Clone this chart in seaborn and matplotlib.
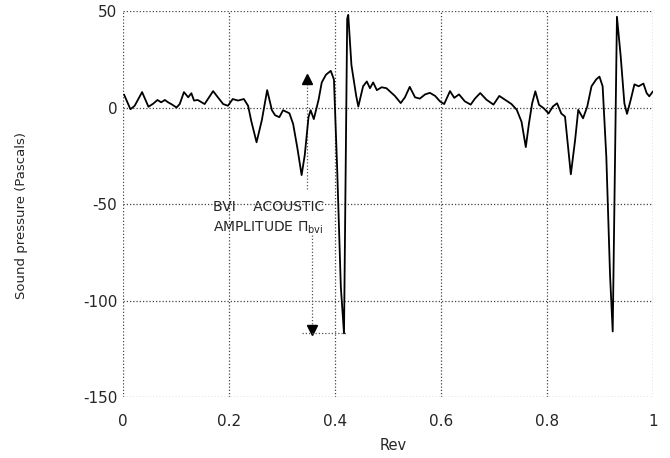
import numpy as np
import pandas as pd
import matplotlib
matplotlib.use("Agg")
import matplotlib.pyplot as plt
import seaborn as sns

# ---- data ----
rev = [0.002, 0.014, 0.022, 0.036, 0.048, 0.057, 0.065, 0.072, 0.079, 0.085,
       0.091, 0.101, 0.107, 0.115, 0.123, 0.129, 0.134, 0.141, 0.154, 0.170,
       0.179, 0.189, 0.198, 0.207, 0.217, 0.228, 0.236, 0.242, 0.252, 0.262,
       0.272, 0.281, 0.287, 0.295, 0.302, 0.314, 0.321, 0.329, 0.337, 0.343,
       0.350, 0.354, 0.360, 0.369, 0.375, 0.383, 0.392, 0.398, 0.404, 0.411,
       0.417, 0.423, 0.425, 0.431, 0.440, 0.444, 0.453, 0.460, 0.466, 0.472,
       0.479, 0.488, 0.497, 0.513, 0.524, 0.532, 0.541, 0.551, 0.560, 0.570,
       0.579, 0.589, 0.598, 0.606, 0.617, 0.625, 0.634, 0.645, 0.656, 0.664,
       0.674, 0.686, 0.699, 0.710, 0.721, 0.733, 0.743, 0.752, 0.760, 0.766,
       0.772, 0.778, 0.785, 0.794, 0.803, 0.811, 0.819, 0.827, 0.834, 0.845,
       0.853, 0.859, 0.868, 0.876, 0.884, 0.893, 0.899, 0.905, 0.912, 0.919,
       0.924, 0.932, 0.939, 0.946, 0.951, 0.958, 0.965, 0.973, 0.982, 0.988,
       0.993, 1.000]
pressure = [6.7, -0.9, 0.9, 8.0, 0.4, 2.0, 3.9, 2.7, 3.9, 2.7,
            1.8, 0.0, 1.8, 8.0, 5.3, 7.4, 3.6, 3.9, 1.8, 8.5,
            5.3, 1.8, 0.9, 4.4, 3.6, 4.4, 0.9, -7.0, -18.0, -6.5,
            9.0, -1.4, -4.0, -5.0, -1.4, -3.0, -8.5, -21.0, -35.0, -24.5,
            -5.0, -1.4, -6.0, 4.0, 13.0, 17.0, 19.0, 14.5, -31.0, -93.0,
            -117.0, 46.0, 48.0, 22.0, 6.0, 0.5, 11.0, 13.5, 10.0, 13.0,
            9.0, 10.5, 10.0, 6.0, 2.3, 5.3, 10.7, 5.3, 4.6, 6.8,
            7.6, 6.0, 3.2, 1.8, 8.5, 5.0, 6.8, 3.2, 1.5, 4.6,
            7.5, 4.0, 1.5, 6.0, 4.0, 1.8, -1.2, -7.4, -20.5, -8.2,
            2.2, 8.4, 1.4, -0.4, -3.1, 0.5, 2.2, -3.1, -4.7, -34.6,
            -17.0, -1.2, -5.6, 0.5, 11.0, 14.6, 16.0, 11.0, -25.8, -87.0,
            -116.0, 47.0, 26.8, 2.2, -3.3, 4.0, 12.0, 11.0, 12.4, 7.5,
            5.8, 8.4]

x_ticks = [0, 0.2, 0.4, 0.6, 0.8, 1.0]
x_tick_labels = ["0", "0.2", "0.4", "0.6", "0.8", "1"]
y_ticks = [50, 0, -50, -100, -150]
y_tick_labels = ["50", "0", "-50", "-100", "-150"]

# annotation values (BVI acoustic amplitude)
arrow_x_up = 0.348
arrow_x_down = 0.357
arrow_top = 17.0
arrow_upper_end = -42.0
arrow_lower_start = -66.0
bvi_min = -117.0
peak_x = 0.42

df = pd.DataFrame({"Rev": rev, "Pressure": pressure})

sns.set_style("white")
plt.rcParams["font.family"] = ["DejaVu Sans"]
plt.rcParams["axes.unicode_minus"] = False

fig = plt.figure(figsize=(6.7, 4.58), dpi=100)
ax = fig.add_axes([0.1836, 0.133, 0.791, 0.843])

grid_kw = dict(color="#444444", linewidth=0.9, linestyle=(0, (1, 1.6)))
ax.set_xlim(0, 1)
ax.set_ylim(-150, 50)
ax.set_xticks(x_ticks)
ax.set_xticklabels(x_tick_labels)
ax.set_yticks(y_ticks)
ax.set_yticklabels(y_tick_labels)
ax.grid(True, **grid_kw)
for s in ax.spines.values():
    s.set_visible(False)
ax.tick_params(axis="both", length=0, labelsize=11)
ax.tick_params(axis="x", pad=12)
ax.tick_params(axis="y", pad=4)

sns.lineplot(data=df, x="Rev", y="Pressure", color="black", linewidth=1.3,
             ax=ax, zorder=3)

# annotation
ax.plot([arrow_x_up, arrow_x_up], [arrow_upper_end, arrow_top - 4],
        color="#555555", linewidth=0.9, linestyle=(0, (1, 1.6)))
ax.plot([arrow_x_up], [arrow_top - 2], marker="^", color="black",
        markersize=6.5, linestyle="none")
ax.plot([arrow_x_down, arrow_x_down], [arrow_lower_start, bvi_min + 4],
        color="#555555", linewidth=0.9, linestyle=(0, (1, 1.6)))
ax.plot([arrow_x_down], [bvi_min + 2], marker="v", color="black",
        markersize=6.5, linestyle="none")
ax.plot([0.338, peak_x], [bvi_min, bvi_min],
        color="#555555", linewidth=0.9, linestyle=(0, (1, 1.6)))

ax.text(0.17, -51.5, "BVI    ACOUSTIC", fontsize=10, va="center", ha="left")
ax.text(0.17, -62.5, r"AMPLITUDE $\Pi_{\mathrm{bvi}}$", fontsize=10,
        va="center", ha="left")

ax.set_xlabel("Rev", fontsize=10.5)
ax.set_ylabel("Sound pressure (Pascals)", fontsize=9.5)
ax.xaxis.set_label_coords(0.51, -0.105)
ax.yaxis.set_label_coords(-0.18, 0.47)

fig.savefig("out.png", dpi=100)
